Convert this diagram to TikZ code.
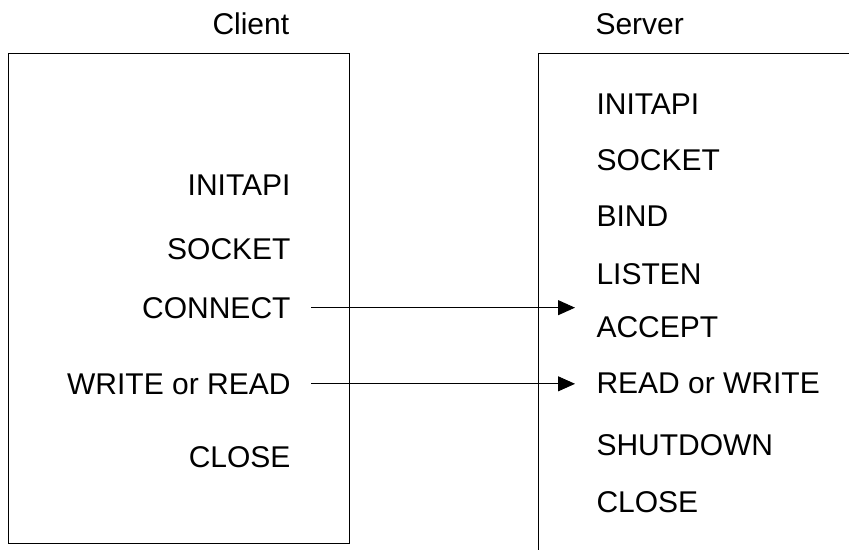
\documentclass[tikz,border=0pt]{standalone}
\usepackage{fontspec}
\setmainfont{Liberation Sans}
\usetikzlibrary{arrows.meta}

\begin{document}
\begin{tikzpicture}[x=0.5pt,y=-0.5pt,line width=0.5pt,
  every node/.style={font=\fontsize{15}{18}\selectfont, inner sep=0pt},
  ctext/.style={anchor=base east},
  stext/.style={anchor=base west},
  msg/.style={-{Triangle[length=8.5pt,width=7.5pt]}, shorten <=10pt}]
%[inner sep=1mm]
\useasboundingbox (0,0) rectangle (849,550);

\path (212,35) node (Client) [anchor=base west] {Client};
\path (595,35) node (Server) [anchor=base west] {Server};

\draw (8,54) rectangle (349,543);
\draw (849,54) -- (538,54) -- (538,550);

\path (291,196) node (cinit) [ctext] {INITAPI};
\path (291,259) node (csock) [ctext] {SOCKET};
\path (291,318) node (cconn) [ctext] {CONNECT};
\path (291,394) node (cwrite) [ctext] {WRITE or READ};
\path (291,467) node (cclose) [ctext] {CLOSE};

\path (596,115) node (sinit) [stext] {INITAPI};
\path (596,171) node (ssock) [stext] {SOCKET};
\path (596,227) node (sbind) [stext] {BIND};
\path (596,285) node (slisten) [stext] {LISTEN};
\path (596,337) node (saccept) [stext] {ACCEPT};
\path (596,393) node (sread) [stext] {READ or WRITE};
\path (596,455) node (sshut) [stext] {SHUTDOWN};
\path (596,512) node (sclose) [stext] {CLOSE};

\draw [msg] (cconn.east) to ([xshift=-10.5pt]cconn.east -| saccept.west);
\draw [msg] (cwrite.east) to ([xshift=-10.5pt]cwrite.east -| sread.west);

\end{tikzpicture}
\end{document}
